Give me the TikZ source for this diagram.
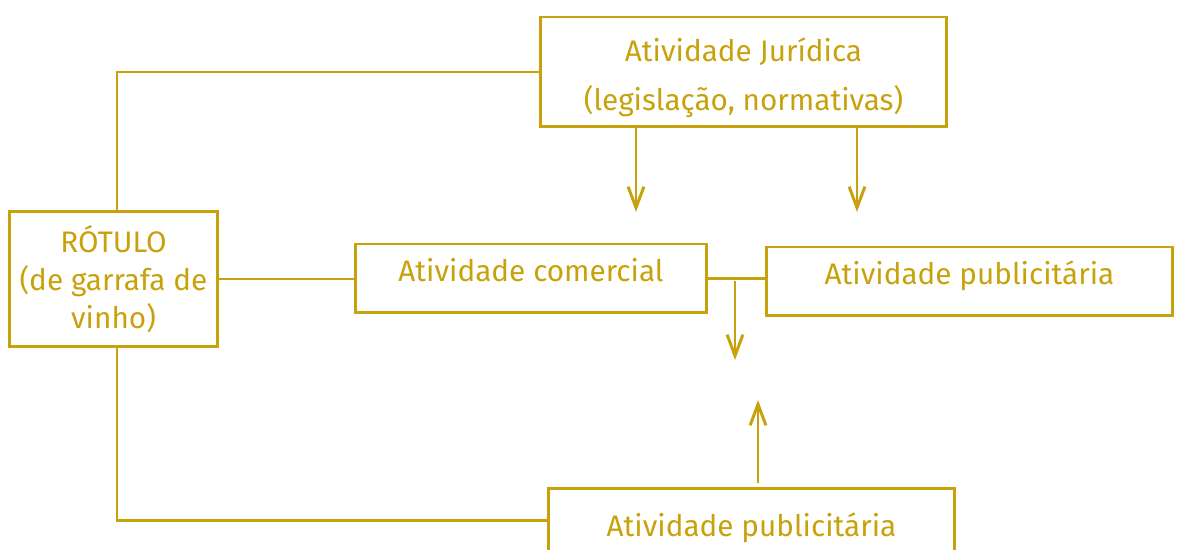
\documentclass[tikz,border=0pt]{standalone}
\usepackage{fontspec}
\setmainfont{Fira Sans}
\usetikzlibrary{arrows.meta}
\definecolor{ouro}{RGB}{200,162,12}
\begin{document}
\begin{tikzpicture}[x=0.02cm,y=-0.02cm,
    caixa/.style={draw=ouro,text=ouro,line width=1.7pt,align=center,inner sep=0pt,
      font=\fontsize{16.9}{21.8}\selectfont},
    linha/.style={caixa,text height=14pt,text depth=10.5pt},
    seta/.style={-{Straight Barb[length=12pt,width=9pt]}}]
      \useasboundingbox (0,0) rectangle (1178,550);
      \clip (0,0) rectangle (1178,550);
      \draw
        (743.5,72) node[caixa,minimum width=8.14cm,minimum height=2.2cm,text height=48pt,
          font=\fontsize{16.9}{27.8}\selectfont] (jur){Atividade Jurídica\\(legislação, normativas)}
        (113.5,279) node[caixa,minimum width=4.18cm,minimum height=2.72cm] (rot){RÓTULO\\(de garrafa de\\vinho)}
        (531,278.5) node[linha,minimum width=7.04cm,minimum height=1.38cm] (com){Atividade comercial}
        (969.5,281.5) node[linha,minimum width=8.14cm,minimum height=1.38cm] (pubd){Atividade publicitária}
        (751.5,487) node[linha,anchor=north,minimum width=8.14cm,minimum height=1.8cm] (pubb){Atividade publicitária};
      \coordinate (alvo1) at (636,212);
      \coordinate (alvo2) at (857,212);
      \coordinate (junta) at (735,281);
      \coordinate (alvo3) at (735,360);
      \coordinate (base) at (758,483);
      \coordinate (alvo4) at (758,400);
      \begin{scope}[draw=ouro,line width=1.7pt]
        \draw (jur.west) -| ([xshift=0.07cm]rot.north);
        \draw ([xshift=0.07cm]rot.south) |- ([yshift=0.26cm]pubb.west);
        \draw (rot.east) to (rot.east -| com.west);
        \draw (com.east) to (com.east -| pubd.west);
        \draw[seta] (alvo1 |- jur.south) to (alvo1);
        \draw[seta] (alvo2 |- jur.south) to (alvo2);
        \draw[seta] (junta) to (alvo3);
        \draw[seta] (base) to (alvo4);
      \end{scope}
    \end{tikzpicture}
\end{document}
